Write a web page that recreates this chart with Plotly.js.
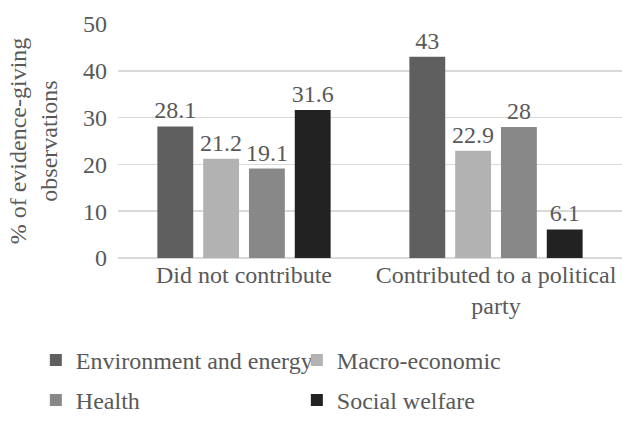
<!DOCTYPE html>
<html>
<head>
<meta charset="utf-8">
<script src="https://cdn.plot.ly/plotly-3.0.1.min.js"></script>
<style>html,body{margin:0;padding:0;background:#fff;}#chart{width:622px;height:423px;}</style>
</head>
<body>
<div id="chart"></div>
<script>
const categories = ["Did not contribute", "Contributed to a political<br>party"];
const seriesNames = ["Environment and energy", "Macro-economic", "Health", "Social welfare"];
const environment = [28.1, 43];
const macroEconomic = [21.2, 22.9];
const health = [19.1, 28];
const socialWelfare = [31.6, 6.1];
const yTicks = [0, 10, 20, 30, 40, 50];

const colors = ["#5f5f5f", "#b2b2b2", "#888888", "#222222"];
const values = [environment, macroEconomic, health, socialWelfare];
const legendIds = ["legend", "legend", "legend2", "legend2"];
const FONT = "Liberation Serif";
const TXT = "#595959";

const traces = values.map((v, i) => ({
  type: "bar",
  name: seriesNames[i],
  x: categories,
  y: v,
  marker: {color: colors[i]},
  text: v.map(String),
  texttemplate: "%{text}",
  textposition: "outside",
  constraintext: "none",
  cliponaxis: false,
  textfont: {family: FONT, size: 24, color: TXT},
  legend: legendIds[i],
  hoverinfo: "skip"
}));

const layout = {
  width: 622, height: 423,
  margin: {l: 118, r: 0, t: 24, b: 157},
  paper_bgcolor: "#ffffff",
  plot_bgcolor: "#ffffff",
  font: {family: FONT, size: 24, color: TXT},
  barmode: "group",
  bargap: 0.273,
  bargroupgap: 0.217,
  xaxis: {
    type: "category",
    showgrid: false,
    showline: false,
    ticks: "",
    tickfont: {family: FONT, size: 24, color: TXT},
    automargin: false
  },
  yaxis: {
    range: [0, 50],
    tickvals: yTicks,
    showgrid: true,
    gridcolor: "#d9d9d9",
    gridwidth: 1.5,
    zeroline: true,
    zerolinecolor: "#d9d9d9",
    zerolinewidth: 1.5,
    showline: false,
    ticks: "",
    ticklabelstandoff: 10,
    tickfont: {family: FONT, size: 24, color: TXT},
    title: {text: "% of evidence-giving<br>observations", font: {family: FONT, size: 24, color: TXT}, standoff: 18},
    automargin: false
  },
  legend: {
    orientation: "h",
    x: -0.163, xanchor: "left",
    y: -0.438, yanchor: "middle",
    entrywidth: 216, entrywidthmode: "pixels",
    font: {family: FONT, size: 24, color: TXT},
    bgcolor: "rgba(0,0,0,0)",
    traceorder: "normal"
  },
  legend2: {
    orientation: "h",
    x: -0.163, xanchor: "left",
    y: -0.612, yanchor: "middle",
    entrywidth: 216, entrywidthmode: "pixels",
    font: {family: FONT, size: 24, color: TXT},
    bgcolor: "rgba(0,0,0,0)",
    traceorder: "normal"
  },
  showlegend: true
};

Plotly.newPlot("chart", traces, layout, {displayModeBar: false, staticPlot: true});
</script>
</body>
</html>
